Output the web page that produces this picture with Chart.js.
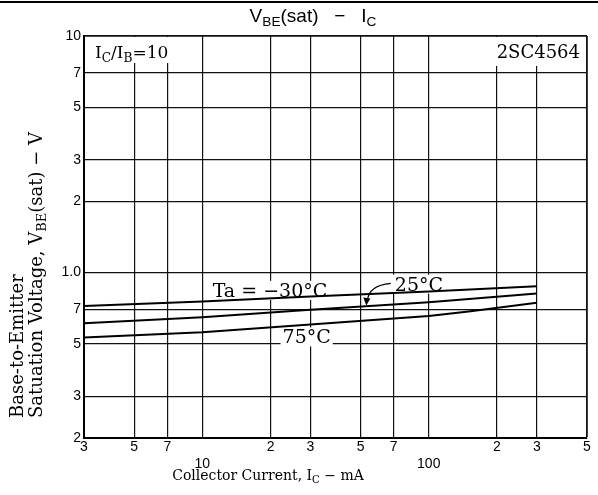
<!DOCTYPE html>
<html>
<head>
<meta charset="utf-8">
<script src="https://cdn.jsdelivr.net/npm/chart.js@4.4.1/dist/chart.umd.min.js"></script>
<style>
body{margin:0;background:#fff;}
</style>
</head>
<body>
<canvas id="myChart" width="598" height="495"></canvas>
<script>
// data (mA, V)
const taM30Current = [3, 10, 30, 100, 300];
const taM30Voltage = [0.722, 0.755, 0.792, 0.832, 0.876];
const ta25Current = [3, 10, 30, 100, 300];
const ta25Voltage = [0.611, 0.648, 0.697, 0.750, 0.816];
const ta75Current = [3, 10, 30, 100, 150, 300];
const ta75Voltage = [0.532, 0.560, 0.603, 0.655, 0.685, 0.746];

// ticks
const xTickValues = [3, 5, 7, 10, 20, 30, 50, 70, 100, 200, 300, 500];
const xTickLabels = ['3', '5', '7', ['', '10'], '2', '3', '5', '7', ['', '100'], '2', '3', '5'];
const yTickValues = [0.2, 0.3, 0.5, 0.7, 1, 2, 3, 5, 7, 10];
const yTickLabels = ['2', '3', '5', '7', '1.0', '2', '3', '5', '7', '10'];

// curve labels (placed in data units)
const curveLabelText = ['Ta = \u221230\u00b0C', '25\u00b0C', '75\u00b0C'];
const curveLabelCurrent = [11.1, 70.8, 22.6];
const curveLabelVoltage = [0.79, 0.839, 0.502];

function toPoints(xs, ys) {
    return xs.map(function (x, i) { return { x: x, y: ys[i] }; });
}

// draws text made of parts, some parts subscript
function drawParts(ctx, parts, x, y, size, family) {
    let cx = x;
    parts.forEach(function (p) {
        const s = p.sub ? size * 0.72 : size;
        ctx.font = s + 'px ' + family;
        ctx.fillText(p.t, cx, y + (p.sub ? size * 0.22 : 0));
        cx += ctx.measureText(p.t).width;
    });
    return cx - x;
}
function partsWidth(ctx, parts, size, family) {
    let w = 0;
    parts.forEach(function (p) {
        ctx.font = (p.sub ? size * 0.72 : size) + 'px ' + family;
        w += ctx.measureText(p.t).width;
    });
    return w;
}

const serif = '"DejaVu Serif"';
const sans = '"Liberation Sans"';

const decor = {
    id: 'decor',
    beforeDatasetsDraw: function (chart) {
        const ctx = chart.ctx;
        const a = chart.chartArea;
        const xs = chart.scales.x, ys = chart.scales.y;
        ctx.save();
        ctx.fillStyle = '#fff';
        // boxes behind the corner labels
        ctx.fillRect(a.left + 2, a.top + 1, 114, 26);
        ctx.fillRect(a.right - 96, a.top + 1, 95, 29);
        // boxes behind the curve labels
        ctx.font = '19px ' + serif;
        curveLabelText.forEach(function (t, i) {
            const px = xs.getPixelForValue(curveLabelCurrent[i]);
            const py = ys.getPixelForValue(curveLabelVoltage[i]);
            const w = ctx.measureText(t).width;
            ctx.fillRect(px - 2, py - 16, w + 4, 19);
        });
        ctx.restore();
    },
    afterDatasetsDraw: function (chart) {
        const ctx = chart.ctx;
        const a = chart.chartArea;
        const xs = chart.scales.x, ys = chart.scales.y;
        ctx.save();
        ctx.fillStyle = '#000';
        ctx.strokeStyle = '#000';
        ctx.textBaseline = 'alphabetic';
        ctx.textAlign = 'left';

        // scan edge at very top
        ctx.fillRect(0, 1, 598, 2);

        // title
        const titleParts = [{ t: 'V' }, { t: 'BE', sub: true }, { t: '(sat)   \u2212   I' }, { t: 'C', sub: true }];
        const tw = partsWidth(ctx, titleParts, 19, sans);
        drawParts(ctx, titleParts, 313 - tw / 2, 22, 19, sans);

        // corner labels
        drawParts(ctx, [{ t: 'I' }, { t: 'C', sub: true }, { t: '/I' }, { t: 'B', sub: true }, { t: '=10' }], a.left + 11, a.top + 22, 17, serif);
        ctx.font = '18px ' + serif;
        ctx.textAlign = 'right';
        ctx.fillText('2SC4564', a.right - 7, a.top + 22);
        ctx.textAlign = 'left';

        // curve labels
        ctx.font = '19px ' + serif;
        curveLabelText.forEach(function (t, i) {
            ctx.fillText(t, xs.getPixelForValue(curveLabelCurrent[i]), ys.getPixelForValue(curveLabelVoltage[i]));
        });

        // leader arrow from "25°C" to its curve
        const sx = xs.getPixelForValue(68), sy = ys.getPixelForValue(0.9);
        const ex = xs.getPixelForValue(53), ey = ys.getPixelForValue(0.727);
        ctx.lineWidth = 1.3;
        ctx.beginPath();
        ctx.moveTo(sx, sy);
        ctx.quadraticCurveTo(ex + 2, sy + 2, ex + 1, ey - 4);
        ctx.stroke();
        ctx.beginPath();
        ctx.moveTo(ex, ey);
        ctx.lineTo(ex - 3, ey - 8);
        ctx.lineTo(ex + 4, ey - 7);
        ctx.closePath();
        ctx.fill();

        // x axis title
        const xParts = [{ t: 'Collector Current, I' }, { t: 'C', sub: true }, { t: ' \u2212 mA' }];
        const xw = partsWidth(ctx, xParts, 14, serif);
        drawParts(ctx, xParts, 268 - xw / 2, 480, 14, serif);

        // y axis title, two lines, reading upward
        ctx.translate(23, 418);
        ctx.rotate(-Math.PI / 2);
        ctx.font = '18px ' + serif;
        ctx.fillText('Base-to-Emitter', 0, 0);
        drawParts(ctx, [{ t: 'Satuation Voltage, V' }, { t: 'BE', sub: true }, { t: '(sat) \u2212 V' }], 0, 19, 18, serif);
        ctx.restore();
    }
};

const ctx = document.getElementById('myChart');

const lineStyle = { borderColor: '#000', borderWidth: 2, pointRadius: 0, tension: 0, fill: false };

new Chart(ctx, {
    type: 'line',
    data: {
        datasets: [
            Object.assign({ label: 'Ta = -30°C', data: toPoints(taM30Current, taM30Voltage) }, lineStyle),
            Object.assign({ label: '25°C', data: toPoints(ta25Current, ta25Voltage) }, lineStyle),
            Object.assign({ label: '75°C', data: toPoints(ta75Current, ta75Voltage) }, lineStyle)
        ]
    },
    options: {
        responsive: false,
        animation: false,
        layout: { padding: { top: 36, right: 11, left: 0, bottom: 0 } },
        plugins: { legend: { display: false }, tooltip: { enabled: false } },
        scales: {
            x: {
                type: 'logarithmic',
                min: 3,
                max: 500,
                afterBuildTicks: function (scale) {
                    scale.ticks = xTickValues.map(function (v) { return { value: v }; });
                },
                afterFit: function (scale) { scale.height = 57; },
                ticks: {
                    autoSkip: false,
                    maxRotation: 0,
                    padding: 1,
                    color: '#000',
                    font: { family: 'Liberation Sans', size: 14 },
                    callback: function (value, index) { return xTickLabels[index]; }
                },
                grid: {
                    color: '#111',
                    lineWidth: function (c) { return c.tick && c.tick.value === 500 ? 1.8 : 1.2; },
                    drawTicks: false
                },
                border: { color: '#000', width: 2 }
            },
            y: {
                type: 'logarithmic',
                min: 0.2,
                max: 10,
                afterBuildTicks: function (scale) {
                    scale.ticks = yTickValues.map(function (v) { return { value: v }; });
                },
                afterFit: function (scale) { scale.width = 84; },
                ticks: {
                    autoSkip: false,
                    padding: 3,
                    color: '#000',
                    font: { family: 'Liberation Sans', size: 14 },
                    callback: function (value, index) { return yTickLabels[index]; }
                },
                grid: {
                    color: '#111',
                    lineWidth: function (c) { return c.tick && c.tick.value === 10 ? 1.8 : 1.2; },
                    drawTicks: false
                },
                border: { color: '#000', width: 2 }
            }
        }
    },
    plugins: [decor]
});
</script>
</body>
</html>
